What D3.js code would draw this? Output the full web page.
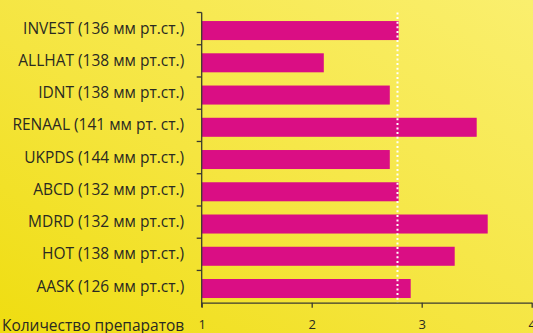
<!DOCTYPE html>
<html>
<head>
<meta charset="utf-8">
<script src="https://cdn.jsdelivr.net/npm/d3@7"></script>
<style>
  html, body { margin: 0; padding: 0; overflow: hidden; }
  svg { display: block; }
  text { font-family: "Open Sans", Lato, sans-serif; fill: #2a2a22; }
</style>
</head>
<body>
<svg id="chart" width="533" height="333"></svg>
<script>
const categories = [
  "INVEST (136 мм рт.ст.)",
  "ALLHAT (138 мм рт.ст.)",
  "IDNT (138 мм рт.ст.)",
  "RENAAL (141 мм рт. ст.)",
  "UKPDS (144 мм рт.ст.)",
  "ABCD (132 мм рт.ст.)",
  "MDRD (132 мм рт.ст.)",
  "HOT (138 мм рт.ст.)",
  "AASK (126 мм рт.ст.)"
];
const values = [2.79, 2.11, 2.71, 3.50, 2.71, 2.79, 3.60, 3.30, 2.90];
const referenceValue = [2.78];
const xTicks = [1, 2, 3, 4];
const xAxisTitle = "Количество препаратов";

const W = 533, H = 333;
const m = { left: 201.7, top: 12.5, right: 1.3, bottom: 30.3 };
const svg = d3.select("#chart");

// background gradient
const defs = svg.append("defs");
const grad = defs.append("linearGradient").attr("id", "bg")
  .attr("x1", "0%").attr("y1", "100%").attr("x2", "100%").attr("y2", "0%");
grad.append("stop").attr("offset", "0%").attr("stop-color", "#efdd10");
grad.append("stop").attr("offset", "45%").attr("stop-color", "#f5e540");
grad.append("stop").attr("offset", "100%").attr("stop-color", "#faef6e");
svg.append("rect").attr("width", W).attr("height", H).attr("fill", "url(#bg)");

const x = d3.scaleLinear().domain([1, 4]).range([m.left, W - m.right]);
const y = d3.scaleBand().domain(categories).range([m.top, H - m.bottom]).padding(0);

// bars
svg.append("g").selectAll("rect").data(categories).join("rect")
  .attr("x", x(1))
  .attr("y", c => y(c) + y.bandwidth() * 0.265)
  .attr("width", (c, i) => x(values[i]) - x(1))
  .attr("height", y.bandwidth() * 0.59)
  .attr("fill", "#da0e84");

// reference dotted line
svg.append("g").selectAll("line").data(referenceValue).join("line")
  .attr("x1", d => x(d)).attr("x2", d => x(d))
  .attr("y1", m.top).attr("y2", H - m.bottom)
  .attr("stroke", "#ffffff").attr("stroke-width", 2)
  .attr("stroke-dasharray", "2,2.6");

// left axis labels
const yAxis = svg.append("g").attr("transform", `translate(${m.left},0)`)
  .call(d3.axisLeft(y).tickSize(0).tickPadding(17.5));
yAxis.select(".domain").remove();
yAxis.selectAll("text").style("font-size", "15.5px").attr("fill", "#2a2a22");

// left axis line + boundary ticks
const axisColor = "#3a3a30";
svg.append("line").attr("x1", m.left).attr("x2", m.left)
  .attr("y1", m.top).attr("y2", H - m.bottom + 4.5)
  .attr("stroke", axisColor).attr("stroke-width", 1.3);
const bounds = categories.map(c => y(c));
svg.append("g").selectAll("line").data(bounds).join("line")
  .attr("x1", m.left - 5).attr("x2", m.left)
  .attr("y1", d => d).attr("y2", d => d)
  .attr("stroke", axisColor).attr("stroke-width", 1.3);

// bottom axis
const xAxis = svg.append("g").attr("transform", `translate(0,${H - m.bottom})`)
  .call(d3.axisBottom(x).tickValues(xTicks).tickFormat(d3.format("d"))
    .tickSize(5).tickSizeOuter(0).tickPadding(12));
xAxis.select(".domain").attr("stroke", axisColor).attr("stroke-width", 1.3);
xAxis.selectAll(".tick line").attr("stroke", axisColor).attr("stroke-width", 1.3);
xAxis.selectAll("text").style("font-size", "13px").attr("fill", "#2a2a22");

// x axis title
svg.append("text").attr("x", m.left - 17.5).attr("y", 330.5)
  .attr("text-anchor", "end").style("font-size", "15.5px")
  .text(xAxisTitle);
</script>
</body>
</html>
